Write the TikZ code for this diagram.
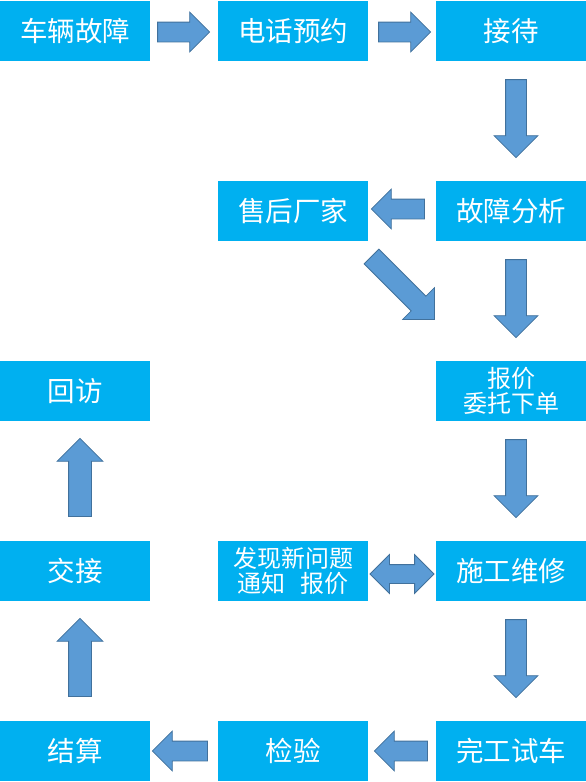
\documentclass[tikz,border=0pt]{standalone}
\usepackage{fontspec}
\setmainfont{Noto Sans CJK SC}
\usetikzlibrary{shapes.arrows,calc}
\definecolor{boxblue}{HTML}{00B0F0}
\definecolor{arrowfill}{HTML}{5B9BD5}
\definecolor{arrowline}{HTML}{41719C}
\tikzset{
  stage/.style={rectangle, fill=boxblue, text=white, inner sep=0pt,
    minimum width=150pt, minimum height=60pt, align=center,
    font=\fontsize{27.5pt}{30pt}\selectfont},
  twoline/.style={font=\fontsize{24pt}{25pt}\selectfont},
  flow/.style={single arrow, draw=arrowline, fill=arrowfill, line width=0.8pt,
    inner xsep=0pt, inner ysep=9.5pt, minimum height=52pt, anchor=tail,
    single arrow head extend=10pt},
  flowv/.style={flow, minimum height=78pt, inner ysep=10pt,
    single arrow head extend=11.5pt},
  both/.style={double arrow, draw=arrowline, fill=arrowfill, line width=0.8pt,
    inner xsep=0pt, inner ysep=9pt, minimum height=64pt,
    double arrow head extend=10pt},
}
\begin{document}
\begin{tikzpicture}[x=1pt,y=-1pt]
  \useasboundingbox (0,0) rectangle (586,782);

  % the stages
  \node[stage] (fault) at (75,31) {车辆故障};
  \node[stage] (call) at (293,31) {电话预约};
  \node[stage] (reception) at (511,31) {接待};
  \node[stage] (maker) at (293,211) {售后厂家};
  \node[stage] (diagnosis) at (511,211) {故障分析};
  \node[stage] (revisit) at (75,391) {回访};
  \node[stage,twoline] (quote) at (511,391) {报价\\委托下单};
  \node[stage] (handover) at (75,571) {交接};
  \node[stage,twoline] (newissue) at (293,571) {发现新问题\\通知\hspace{.6em}报价};
  \node[stage] (repair) at (511,571) {施工维修};
  \node[stage] (payment) at (75,751) {结算};
  \node[stage] (check) at (293,751) {检验};
  \node[stage] (test) at (511,751) {完工试车};

  % the block arrows, placed by their tails
  \node[flow] (a1) at ($(fault.east)+(7,1)$) {};
  \node[flow] (a2) at ($(call.east)+(10,1)$) {};
  \node[flowv,rotate=-90] (a3) at ($(reception.south)+(5,18)$) {};
  \node[flow,rotate=180,minimum height=53pt] (a4) at ($(diagnosis.west)+(-11,-2)$) {};
  \node[flowv,rotate=-45,minimum height=89pt,
    single arrow head extend=12pt] (a5) at ($(maker.south east)+(3,15)$) {};
  \node[flowv,rotate=-90] (a6) at ($(diagnosis.south)+(5,18)$) {};
  \node[flowv,rotate=-90] (a7) at ($(quote.south)+(5,18)$) {};
  \node[both] (a8) at ($(repair.west)!.5!(newissue.east)+(0,3)$) {};
  \node[flowv,rotate=-90] (a9) at ($(repair.south)+(5,18)$) {};
  \node[flow,rotate=180,minimum height=53pt] (a10) at ($(test.west)+(-8,0)$) {};
  \node[flow,rotate=180,minimum height=55pt] (a11) at ($(check.west)+(-10,0)$) {};
  \node[flowv,rotate=90,inner ysep=11pt] (a12) at ($(payment.north)+(5,-24)$) {};
  \node[flowv,rotate=90,inner ysep=11pt] (a13) at ($(handover.north)+(5,-24)$) {};
\end{tikzpicture}
\end{document}
